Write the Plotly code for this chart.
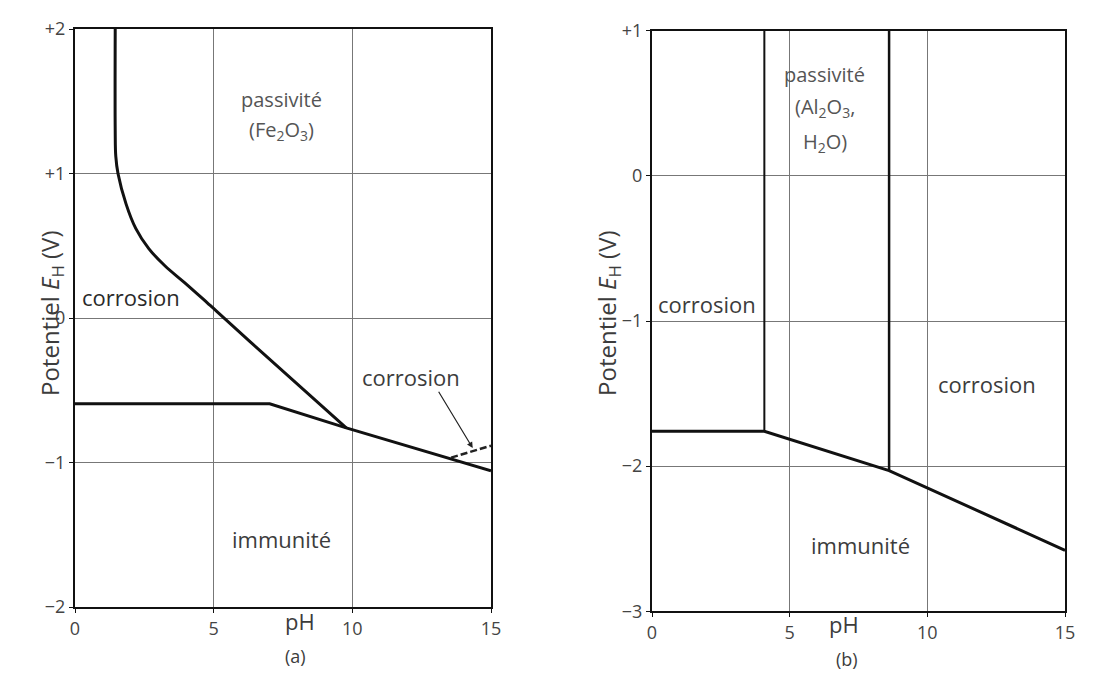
import plotly.graph_objects as go

# ---------------- data: (a) iron ----------------
fe_passive_ph = [1.45, 1.45, 1.47, 1.55, 1.84, 2.19, 2.66, 3.25, 3.95, 4.77, 5.12, 6.29, 9.78]
fe_passive_E = [2.0, 1.3, 1.12, 1.0, 0.79, 0.62, 0.48, 0.36, 0.245, 0.105, 0.045, -0.16, -0.76]
fe_immunity_ph = [0, 7.02, 9.78, 15]
fe_immunity_E = [-0.594, -0.594, -0.76, -1.057]
fe_hfeo2_ph = [13.56, 15]
fe_hfeo2_E = [-0.966, -0.884]

# ---------------- data: (b) aluminium ----------------
al_left_ph = [4.08, 4.08]
al_left_E = [1.0, -1.76]
al_right_ph = [8.61, 8.61]
al_right_E = [1.0, -2.03]
al_immunity_ph = [0, 4.08, 8.61, 15]
al_immunity_E = [-1.76, -1.76, -2.03, -2.58]

x_ticks = [0, 5, 10, 15]
fe_y_ticks = [-2, -1, 0, 1, 2]
fe_y_labels = ["−2", "−1", "0", "+1", "+2"]
al_y_ticks = [-3, -2, -1, 0, 1]
al_y_labels = ["−3", "−2", "−1", "0", "+1"]

FONT = "Open Sans"
TXT_COLOR = "#3c3c3c"
LINE = dict(color="#111111", width=3)

fig = go.Figure()
fig.add_trace(go.Scatter(x=fe_passive_ph, y=fe_passive_E, mode="lines",
                         line=dict(color="#111111", width=3, shape="spline", smoothing=1.0),
                         xaxis="x", yaxis="y"))
fig.add_trace(go.Scatter(x=fe_immunity_ph, y=fe_immunity_E, mode="lines", line=LINE, xaxis="x", yaxis="y"))
fig.add_trace(go.Scatter(x=fe_hfeo2_ph, y=fe_hfeo2_E, mode="lines",
                         line=dict(color="#222222", width=2.5, dash="7px,3px"), xaxis="x", yaxis="y"))

fig.add_trace(go.Scatter(x=al_left_ph, y=al_left_E, mode="lines", line=dict(color="#111111", width=2), xaxis="x2", yaxis="y2"))
fig.add_trace(go.Scatter(x=al_right_ph, y=al_right_E, mode="lines", line=dict(color="#111111", width=2.5), xaxis="x2", yaxis="y2"))
fig.add_trace(go.Scatter(x=al_immunity_ph, y=al_immunity_E, mode="lines", line=LINE, xaxis="x2", yaxis="y2"))

axis_common = dict(
    showline=True, mirror=True, linecolor="#111111", linewidth=2,
    showgrid=True, gridcolor="#777777", gridwidth=1,
    ticks="outside", ticklen=4, tickcolor="#111111",
    tickfont=dict(family=FONT, size=18, color="#444444"),
    zeroline=False, fixedrange=True, automargin=False,
)

fig.update_layout(
    width=1102, height=676,
    margin=dict(l=0, r=0, t=0, b=0, autoexpand=False),
    paper_bgcolor="white", plot_bgcolor="white",
    showlegend=False,
    xaxis=dict(axis_common, domain=[0.0608, 0.4383], range=[0, 15], tickvals=x_ticks, anchor="y"),
    yaxis=dict(axis_common, domain=[0.1139, 0.9689], range=[-2, 2], tickvals=fe_y_ticks, ticktext=fe_y_labels, anchor="x"),
    xaxis2=dict(axis_common, domain=[0.5844, 0.9592], range=[0, 15], tickvals=x_ticks, anchor="y2"),
    yaxis2=dict(axis_common, domain=[0.1075, 0.9664], range=[-3, 1], tickvals=al_y_ticks, ticktext=al_y_labels, anchor="x2"),
)

txt = dict(family=FONT, size=22, color=TXT_COLOR)
light = dict(txt, size=20, color="#555555")
ann = [
    dict(x=7.44, y=1.51, xref="x", yref="y", text="passivité", showarrow=False, font=light),
    dict(x=7.44, y=1.30, xref="x", yref="y", text="(Fe<sub>2</sub>O<sub>3</sub>)", showarrow=False, font=light),
    dict(x=0.18, y=0.145, xref="x", yref="y", text="corrosion", xanchor="left", showarrow=False,
         font=dict(txt, color="#2a2a2a")),
    dict(x=12.12, y=-0.41, xref="x", yref="y", text="corrosion", showarrow=False, font=txt),
    dict(x=7.44, y=-1.53, xref="x", yref="y", text="immunité", showarrow=False, font=txt),
    dict(x=14.34, y=-0.90, ax=13.08, ay=-0.50, xref="x", yref="y", axref="x", ayref="y", text="",
         showarrow=True, arrowhead=2, arrowsize=1, arrowwidth=1.2, arrowcolor="#222222"),
    dict(x=6.27, y=0.70, xref="x2", yref="y2", text="passivité", showarrow=False, font=light),
    dict(x=6.27, y=0.47, xref="x2", yref="y2", text="(Al<sub>2</sub>O<sub>3</sub>,", showarrow=False, font=light),
    dict(x=6.27, y=0.23, xref="x2", yref="y2", text="H<sub>2</sub>O)", showarrow=False, font=light),
    dict(x=0.15, y=-0.886, xref="x2", yref="y2", text="corrosion", xanchor="left", showarrow=False, font=txt),
    dict(x=12.18, y=-1.435, xref="x2", yref="y2", text="corrosion", showarrow=False, font=txt),
    dict(x=7.57, y=-2.54, xref="x2", yref="y2", text="immunité", showarrow=False, font=txt),
    dict(x=0.2495, y=0.068, xref="paper", yref="paper", text="pH", showarrow=False, font=dict(txt, size=22)),
    dict(x=0.2495, y=0.020, xref="paper", yref="paper", text="(a)", showarrow=False, font=dict(txt, size=18)),
    dict(x=0.774, y=0.064, xref="paper", yref="paper", text="pH", showarrow=False, font=dict(txt, size=22)),
    dict(x=0.773, y=0.016, xref="paper", yref="paper", text="(b)", showarrow=False, font=dict(txt, size=18)),
    dict(x=0.021, y=0.549, xref="paper", yref="paper", text="Potentiel <i>E</i><sub>H</sub> (V)",
         textangle=-90, showarrow=False, font=dict(txt, size=24)),
    dict(x=0.5445, y=0.549, xref="paper", yref="paper", text="Potentiel <i>E</i><sub>H</sub> (V)",
         textangle=-90, showarrow=False, font=dict(txt, size=24)),
]
fig.update_layout(annotations=ann)

fig.write_html("out.html")
